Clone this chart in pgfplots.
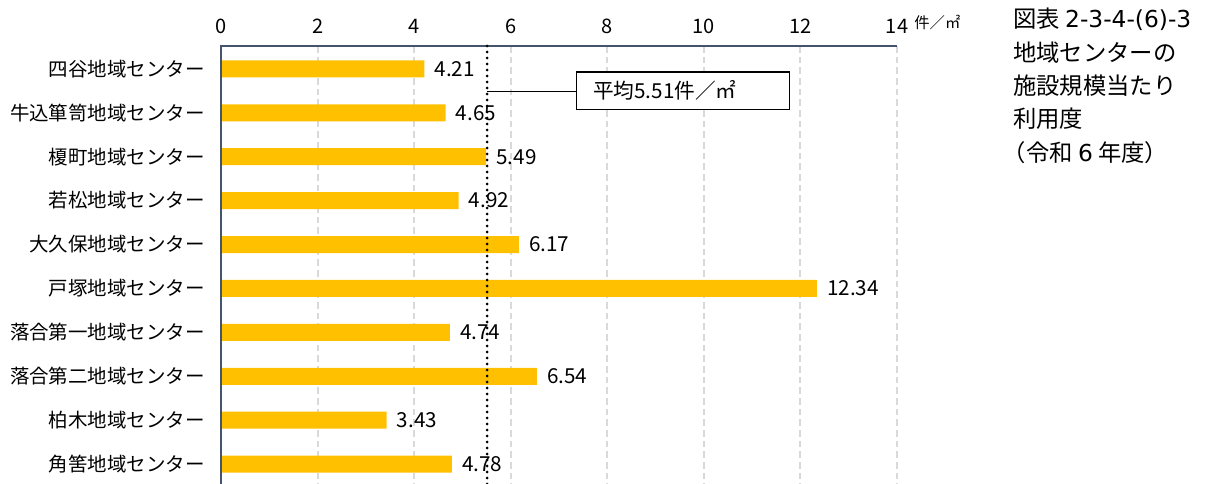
\documentclass[border=0pt]{standalone}
\usepackage{fontspec}
\setmainfont{Noto Sans CJK JP}
\newfontfamily\widelatin{DejaVu Sans}
\usepackage{pgfplots}
\pgfplotsset{compat=1.18}
\definecolor{bargold}{HTML}{FFC000}
\definecolor{axisblue}{HTML}{44546A}
\definecolor{gridgray}{HTML}{D9D9D9}

\begin{document}
\begin{tikzpicture}
\useasboundingbox (0,0) rectangle (912pt,-363pt);
\begin{axis}[
  at={(165.75pt,-34.5pt)}, anchor=north west,
  scale only axis, width=507pt, height=330.75pt,
  xbar, bar width=12.75pt,
  xmin=0, xmax=14, ymin=-0.52, ymax=9.52, y dir=reverse,
  xtick={0,2,...,14}, ytick={0,...,9},
  yticklabels={四谷地域センター,牛込箪笥地域センター,榎町地域センター,若松地域センター,大久保地域センター,戸塚地域センター,落合第一地域センター,落合第二地域センター,柏木地域センター,角筈地域センター},
  xticklabel pos=upper,
  major tick length=0pt,
  axis line style={draw=none},
  xmajorgrids,
  major grid style={gridgray, line width=1.5pt, dash pattern=on 5pt off 3pt},
  /pgf/number format/assume math mode=true,
  xticklabel style={font=\fontsize{15}{15}\selectfont, inner sep=0pt, anchor=south, yshift=9pt},
  yticklabel style={font=\fontsize{14.6}{14.6}\selectfont, inner sep=0pt, anchor=east, xshift=-12pt},
  point meta=x,
  nodes near coords={\pgfmathprintnumber[fixed,fixed zerofill,precision=2]{\pgfplotspointmeta}},
  nodes near coords style={font=\fontsize{15.5}{15.5}\selectfont, anchor=west, inner sep=0pt, xshift=7.5pt},
  clip=false,
]
\addplot[fill=bargold, draw=none] coordinates {
  (4.21,0) (4.65,1) (5.49,2) (4.92,3) (6.17,4)
  (12.34,5) (4.74,6) (6.54,7) (3.43,8) (4.78,9)
};
% axis frame: only left and top
\draw[axisblue, line width=1.2pt] (axis cs:0,9.6) -- (axis cs:0,-0.52) -- (axis cs:14,-0.52);
% average line and callout
\draw[black, line width=2.3pt, line cap=round, dash pattern=on 0pt off 4.5pt] (axis cs:5.51,-0.52) -- (axis cs:5.51,9.6);
\draw[black, line width=0.75pt] (axis cs:5.51,0.52) -- (axis cs:7.37,0.52);
\draw[black, line width=0.9pt, fill=white] (axis cs:7.37,0.07) rectangle (axis cs:11.78,0.93);
\node[anchor=west, inner sep=0pt, xshift=12pt, font=\fontsize{15.5}{15.5}\selectfont] at (axis cs:7.37,0.5) {平均5.51件／㎡};
\end{axis}
\node[font=\fontsize{11.5}{11.5}\selectfont] at (703pt,-16.5pt) {件／㎡};
\node[anchor=north west, inner sep=0pt, font=\fontsize{17.5}{17.5}\selectfont] at (759.75pt,-6pt)
  {\begin{tabular}{@{}l@{}}
   図表 \widelatin 2-3-4-(6)-3\\[5pt]
   地域センターの\\[5pt]
   施設規模当たり\\[5pt]
   利用度\\[5pt]
   \kern-0.45em（令和 {\widelatin 6} 年度）
   \end{tabular}};
\end{tikzpicture}
\end{document}
